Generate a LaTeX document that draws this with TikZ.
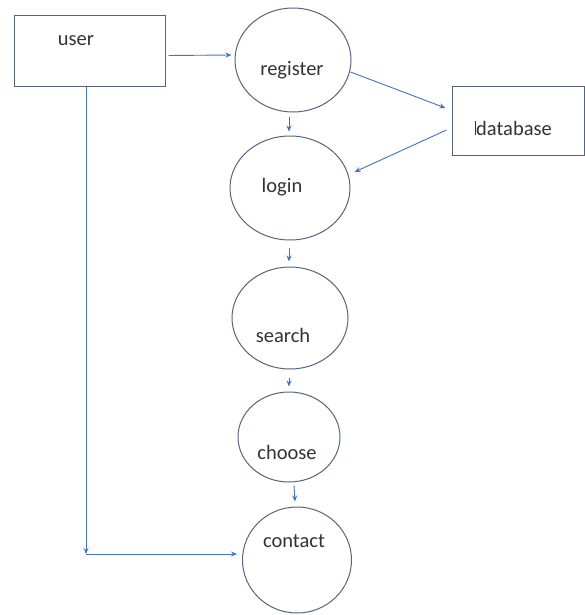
\documentclass[tikz,border=0pt]{standalone}
\usepackage{fontspec}
\setmainfont{Carlito}
\usetikzlibrary{arrows.meta,shapes.geometric}
\definecolor{linkblue}{HTML}{4472C4}
\definecolor{edgegray}{HTML}{56657F}
\definecolor{txtgray}{HTML}{333333}
\tikzset{
  procnode/.style={ellipse,draw=edgegray,line width=1pt,inner sep=0pt},
  boxnode/.style={rectangle,draw=edgegray,line width=1pt,inner sep=0pt},
  lbl/.style={text=txtgray,font=\fontsize{20.5}{24}\selectfont,inner sep=0pt},
  arr/.style={draw=linkblue,line width=0.9pt,-{Stealth[length=6pt,width=5pt]}}
}
\begin{document}
\begin{tikzpicture}[x=1pt,y=-1pt]
\useasboundingbox[fill=white] (0,0) rectangle (585,615);
% shapes
\node[boxnode,minimum width=151pt,minimum height=71pt] (user) at (89.5,51.5) {};
\node[boxnode,minimum width=132pt,minimum height=68pt] (database) at (518,121) {};
\node[procnode,minimum width=116pt,minimum height=104pt] (register) at (293,60) {};
\node[procnode,minimum width=120pt,minimum height=104pt] (login) at (290,188) {};
\node[procnode,minimum width=116pt,minimum height=102pt] (search) at (290,318) {};
\node[procnode,minimum width=102pt,minimum height=90pt] (choose) at (289,437) {};
\node[procnode,minimum width=109pt,minimum height=106pt] (contact) at (297,560) {};
% labels
\node[lbl] (tuser) at (76,41) {user};
\node[lbl] (tregister) at (292,70) {register};
\node[lbl] (tdatabase) at (514,128) {database};
\node[lbl] (tlogin) at (282,187) {login};
\node[lbl] (tsearch) at (283,335) {search};
\node[lbl] (tchoose) at (287,452) {choose};
\node[lbl] (tcontact) at (294,541) {contact};
\draw[txtgray,line width=0.9pt] ([xshift=-1pt]tdatabase.south west) -- ([xshift=-1pt]tdatabase.north west);
% connectors
\draw[arr] ([shift={(3,4)}]user.east) -- ([shift={(-3,-5)}]register.west);
\draw[arr] ([shift={(-4,5)}]register.south) -- ([shift={(-1,-4)}]login.north);
\draw[arr] ([shift={(-1,12)}]register.east) -- ([shift={(-6,-13)}]database.west);
\draw[arr] ([shift={(-5,9)}]database.west) -- ([shift={(4,-16)}]login.east);
\draw[arr] ([shift={(-1,7)}]login.south) -- ([shift={(-1,-5)}]search.north);
\draw[arr] ([shift={(-1,8)}]search.south) -- ([shift={(0,-5)}]choose.north);
\draw[arr] ([shift={(5,3)}]choose.south) -- ([shift={(-2,-5)}]contact.north);
\coordinate (corner) at (86,554);
\draw[arr] ([xshift=-3.5pt]user.south) -- (corner);
\draw[arr] (corner) -- ([xshift=-5pt]contact.west |- corner);
\end{tikzpicture}
\end{document}
